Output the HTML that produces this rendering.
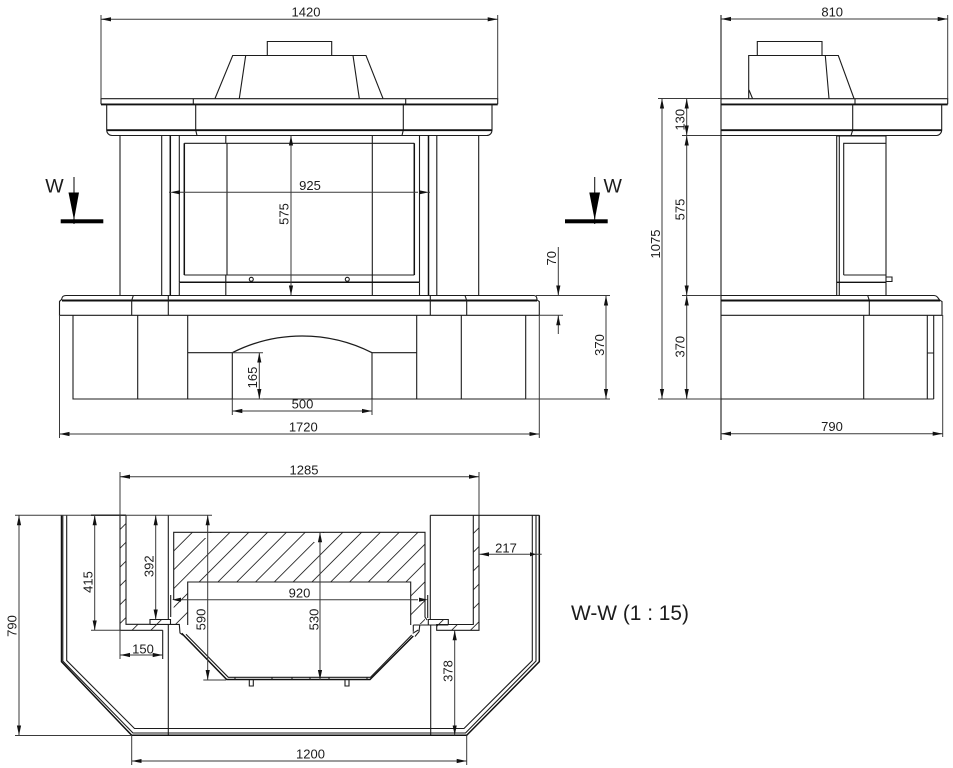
<!DOCTYPE html>
<html>
<head>
<meta charset="utf-8">
<style>
html,body{margin:0;padding:0;background:#fff;}
svg{display:block;}
.o{fill:none;stroke:#1c1c1c;stroke-width:1.1;}
.b{fill:none;stroke:#111;stroke-width:1.9;}
.m{fill:none;stroke:#111;stroke-width:1.5;}
.d{fill:none;stroke:#3a3a3a;stroke-width:1;}
.a{marker-start:url(#ar);marker-end:url(#ar);}
.e{marker-end:url(#ar);}
.h{fill:none;stroke:#2a2a2a;stroke-width:.9;}
text{font-family:"Liberation Sans",sans-serif;font-size:13px;fill:#1c1c1c;text-anchor:middle;}
.w{font-size:19.5px;}
</style>
</head>
<body>
<svg xmlns="http://www.w3.org/2000/svg" width="953" height="768" viewBox="0 0 953 768">
<defs>
<marker id="ar" markerUnits="userSpaceOnUse" markerWidth="11" markerHeight="6" refX="10" refY="3" orient="auto-start-reverse">
<path d="M0 0.9 L10 3 L0 5.1 Z" fill="#111"/>
</marker>
<clipPath id="hc">
<path d="M173.7 532H425V624H410.3V582H187.7V624H173.7Z"/>
<path d="M120 515H126V624.3H162.5V630.3H120Z"/>
<path d="M473.3 515H479V630.3H436.7V624.3H473.3Z"/>
<path d="M150 619.5H170V624.5H150Z"/>
<path d="M428.3 619.5H448.3V624.5H428.3Z"/>
</clipPath>
</defs>

<!-- FRONT VIEW -->
<path class="o" d="M267.3 55.5V41.5H331.7V55.5"/>
<path class="o" d="M215 98.5L232.7 55.5H366L383 98.5M245.7 55.5L239.3 98.5M353 55.5L359.3 98.5"/>
<path class="o" d="M101 104.3V98.7H497.7V104.3M193.3 98.7V104.3M405.7 98.7V104.3"/>
<path class="b" d="M101 104.4H497.7"/>
<path class="o" d="M106.7 104.4V130C106.7 133 109 135.5 112 135.5H486.7C490 135.5 492 133 492 130V104.4M195.7 104.4V130L197 135.5M403.3 104.4V130L402 135.5"/>
<path class="b" d="M106.7 130.2H492"/>
<path class="o" d="M120 135.5V295.5M161.7 135.5V295.5M179.3 135.5V282M419.5 135.5V282M436.8 135.5V295.5M478.7 135.5V295.5"/>
<path class="m" d="M170.3 135.5V295.5M428.5 135.5V295.5"/>
<path class="o" d="M184.3 143.3H414.3M184.3 275H414.3"/>
<path class="m" d="M184.3 143.3V275M414.3 143.3V275"/>
<path class="o" d="M225.8 135.5V143.3M227 143.3V275M225.8 275V295.5M372.3 135.5V295.5"/>
<path class="m" d="M179.3 282.3H419.5"/>
<path class="o" d="M179.3 282.3V295.5M419.5 282.3V295.5"/>
<circle class="o" cx="251.3" cy="279.3" r="2"/>
<circle class="o" cx="347.3" cy="279.3" r="2"/>
<path class="o" d="M59.5 315.3V301.5C60 300.5 61.5 300.3 61.7 299C62 296.5 64 295.5 66 295.5H534C536 295.5 537 297 537 300L539.3 301.5V315.3H59.5Z"/>
<path class="b" d="M62 300.5H537"/>
<path class="o" d="M131.7 315.3V300.5L133.3 295.5M168.3 315.3V295.5M430.3 315.3V295.5M466.7 315.3V300.5L465 295.5"/>
<path class="o" d="M73 315.3V399H525.7V315.3M137.7 315.3V399M187.7 315.3V399M416.7 315.3V399M461.3 315.3V399"/>
<path class="o" d="M232.3 399V352.7M372 399V352.7M187.7 352.7H232.3M372 352.7H416.7"/>
<path class="o" style="stroke-width:1.3" d="M232.3 352.7A154.4 154.4 0 0 1 372 352.7"/>

<!-- front dimensions -->
<path class="d" d="M101 15V98.5M497.7 15V98.5"/>
<path class="d a" d="M101 19.3H497.7"/>
<text x="306" y="16.7">1420</text>
<path class="d" d="M180 192.3H418"/>
<polygon points="170,192.3 180,190.2 180,194.4" fill="#111"/>
<polygon points="429,192.3 419,190.2 419,194.4" fill="#111"/>
<path class="d" d="M169 192.3H171M428 192.3H430"/>
<text x="310" y="190">925</text>
<path class="d a" d="M291 135.5V295.5"/>
<text transform="translate(288.3,214) rotate(-90)">575</text>
<path class="d" d="M232.3 352.7H263M232.3 399H263M232.3 399V415M372 399V415M59.5 315V438M539.3 315V438"/>
<path class="d a" d="M259.3 352.7V399"/>
<text transform="translate(257,377.5) rotate(-90)">165</text>
<path class="d a" d="M232.3 411H372"/>
<text x="302.5" y="408.3">500</text>
<path class="d a" d="M59.5 434H539.3"/>
<text x="303.3" y="431.7">1720</text>
<path class="d" d="M536 295.5H610M539.3 315.3H563M525.7 399H610"/>
<path class="d e" d="M558.3 247V295.5"/>
<path class="d e" d="M558.3 334V315.3"/>
<text transform="translate(556,258.3) rotate(-90)">70</text>
<path class="d a" d="M606 295.5V399"/>
<text transform="translate(604,345) rotate(-90)">370</text>

<!-- W marks -->
<text class="w" x="54.5" y="192.7">W</text>
<path class="o" d="M74 177V224"/>
<polygon points="68.5,192.5 79,192.5 74,220" fill="#000"/>
<rect x="60.7" y="219.3" width="42.6" height="4" fill="#000"/>
<text class="w" x="612.7" y="192.7">W</text>
<path class="o" d="M594.7 177V224"/>
<polygon points="589.3,192.5 600,192.5 594.7,220" fill="#000"/>
<rect x="565" y="219.3" width="42.7" height="4" fill="#000"/>

<!-- SIDE VIEW -->
<path class="o" d="M757.3 55.5V41.5H822V55.5"/>
<path class="o" d="M748.7 98.5V55.5H838.3L854 98.5M825.3 55.5L829 98.5M749 90L752.5 98.5"/>
<path class="o" d="M721 98.7H947.7V104.3M855 98.7V104.3"/>
<path class="b" d="M721 104.4H947.7"/>
<path class="o" d="M941.7 104.4V130C941.7 133 939 135.5 936.7 135.5H721M852.7 104.4V130L851 135.5"/>
<path class="b" d="M721 130.2H941.7"/>
<path class="o" d="M721 15V440"/>
<path class="o" d="M836.7 136H886V295.5M836.7 136V295.5M839.3 136V295.5"/>
<path class="o" d="M843.7 275V143.3H886M843.7 275H886"/>
<path class="m" d="M836.7 282.3H886" style="stroke-width:1.3"/>
<path class="o" d="M886 277H892V281.5H886"/>
<path class="o" d="M721 295.5H934C938 295.5 938 299 940 300.3L942 301.5V315.3H721M867.7 295.5L869.3 300.5V315.3"/>
<path class="b" d="M721 300.5H940"/>
<path class="o" d="M863.7 315.3V399M927.3 315.3V399M933.7 315.3V399M927.3 353H933.7"/>
<path class="o" d="M721 399H933.7"/>
<path class="d" d="M942.7 315V437"/>
<path class="d" d="M947.7 15V98.5"/>
<path class="d a" d="M721 19H947.7"/>
<text x="832.2" y="16.5">810</text>
<path class="d" d="M658 98.5H721M682 135.5H721M682 295.5H721M658 399H721"/>
<path class="d a" d="M662 98.5V399"/>
<text transform="translate(660,244) rotate(-90)">1075</text>
<path class="d a" d="M686.7 98.5V135.5"/>
<path class="d a" d="M686.7 135.5V295.5"/>
<path class="d a" d="M686.7 295.5V399"/>
<text transform="translate(684.5,119.7) rotate(-90)">130</text>
<text transform="translate(684.5,209.5) rotate(-90)">575</text>
<text transform="translate(684.5,346.7) rotate(-90)">370</text>
<path class="d a" d="M721 433.7H942.7"/>
<text x="832" y="431">790</text>

<!-- SECTION W-W -->
<g clip-path="url(#hc)">
<path class="h" d="M149.5 500l-140 140M168.3 500l-140 140M187.1 500l-140 140M205.9 500l-140 140M224.7 500l-140 140M243.5 500l-140 140M262.3 500l-140 140M281.1 500l-140 140M299.9 500l-140 140M318.7 500l-140 140M337.5 500l-140 140M356.3 500l-140 140M375.1 500l-140 140M393.9 500l-140 140M412.7 500l-140 140M431.5 500l-140 140M450.3 500l-140 140M469.1 500l-140 140M487.9 500l-140 140M506.7 500l-140 140M525.5 500l-140 140M544.3 500l-140 140M563.1 500l-140 140M581.9 500l-140 140M600.7 500l-140 140"/>
</g>
<rect x="203" y="533" width="9" height="5" fill="#fff"/>
<rect x="314" y="533" width="10" height="9" fill="#fff"/>
<path class="o" d="M173.7 600V532.3H425V617L427 620M187.7 625V582H410.7V625"/>
<path class="o" d="M120 515.3V630.3H162.7M126 515.3V624.3H150M168.3 515.3V619.5"/>
<path class="m" d="M91 515.3H126"/>
<path class="o" d="M150 624.4V619.5H170.5V624.4M150 624.4H179.3L180 633L182.7 635"/>
<path class="o" d="M162.7 630.3V659M168.3 624.4V735.5"/>
<path class="o" d="M430.3 515.3H539.3"/>
<path class="o" d="M430.3 515.3V619.5M473.3 515.3V624.5H436.7V630.3H479V515.3"/>
<path class="o" d="M428.3 624.5V619.5H448.3V624.5M413.3 625H448.3M413.3 625V631.7M419.8 625L419 631.7L415 636.5"/>
<path class="o" d="M430.7 625V735.5"/>
<path class="o" d="M170.7 595V617M427.7 595V618"/>
<path class="m" d="M61.5 515.3V661.7L131.7 735.3H466.7L539.3 661.7V515.3"/>
<path class="o" d="M62.8 515.3V661L133 733H465.5L536 661V515.3"/>
<path class="o" d="M66.7 515.3V660.5L134.5 728.5H464L532.3 660.5V515.3"/>
<path class="m" d="M181.7 633.3L226.7 679.5H370L413.3 636"/>
<path class="o" d="M186 634.3L228.3 677.3H370.5L411.7 635"/>
<path class="o" d="M235 677.3V680M272 677.3V680M292 677.3V680M310 677.3V680M329 677.3V680M367 677.3V680"/>
<path class="o" d="M249.3 680V686H253.3V680M345 680V686H349V680"/>
<path class="o" d="M412.7 633.3L418.3 630"/>

<!-- section dimensions -->
<path class="d" d="M120 472V515M479 472V515"/>
<path class="d a" d="M120 476.7H479"/>
<text x="304" y="474.3">1285</text>
<path class="d" d="M15 515.3H212M15 735.5H132M91 630.3H120M203.3 680H226"/>
<path class="d a" d="M19 515.3V735.5"/>
<text transform="translate(16.7,626) rotate(-90)">790</text>
<path class="d a" d="M94.7 515.3V630.3"/>
<text transform="translate(92.3,582) rotate(-90)">415</text>
<path class="d a" d="M155.7 515.3V619.5"/>
<text transform="translate(153.3,566.3) rotate(-90)">392</text>
<path class="d a" d="M207.7 515.3V680"/>
<text transform="translate(205.7,619.5) rotate(-90)">590</text>
<path class="d a" d="M320 532.3V680"/>
<text transform="translate(318.3,619.5) rotate(-90)">530</text>
<path class="d" d="M180 599.7H418"/>
<polygon points="172,599.7 181,597.6 181,601.8" fill="#111"/>
<polygon points="428,599.7 419,597.6 419,601.8" fill="#111"/>
<text x="299.5" y="597.3">920</text>
<path class="d" d="M120 630V659"/>
<path class="d a" d="M120 655H162.7"/>
<text x="143" y="653.3">150</text>
<path class="d a" d="M454.7 630.3V735.3"/>
<text transform="translate(452.3,671) rotate(-90)">378</text>
<path class="d" d="M479 554.3H541.7"/>
<polygon points="479.5,554.3 489,552.2 489,556.4" fill="#111"/>
<polygon points="536,554.3 530,552.2 530,556.4" fill="#111"/>
<text x="506" y="552.3">217</text>
<path class="d" d="M131.7 735.5V765M466.7 735.5V765"/>
<path class="d a" d="M131.7 761H466.7"/>
<text x="310.5" y="758.7">1200</text>

<text x="571" y="620" style="font-size:20.9px;text-anchor:start;">W-W (1 : 15)</text>
</svg>
</body>
</html>
